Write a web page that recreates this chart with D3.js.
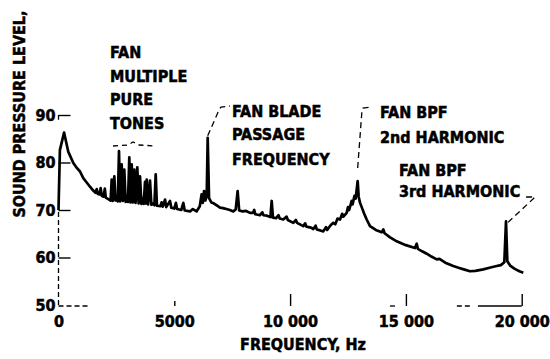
<!DOCTYPE html>
<html lang="en">
<head>
  <meta charset="UTF-8">
  <title>Fan noise spectrum</title>
  <style type="text/css">
    body{
      margin: 0;
      background: #fff;
    }
    svg text{
      font-family: "DejaVu Sans Condensed", "Liberation Sans Narrow", sans-serif;
      font-weight: bold;
      font-size: 16px;
      fill: #000;
      stroke: #000;
      stroke-width: 0.5px;
    }
    .axis line{
      stroke: #000;
      stroke-width: 1.4px;
    }
    .axis text{
      font-size: 16px;
    }
    .piece{
      stroke: #000;
      stroke-width: 1.3px;
      fill: none;
    }
    .spectrum{
      fill: none;
      stroke: #000;
      stroke-width: 2.7px;
      stroke-linejoin: round;
    }
    .leader{
      fill: none;
      stroke: #000;
      stroke-width: 1.3px;
      stroke-dasharray: 6,4;
    }
  </style>
  <script type="text/javascript" src="https://d3js.org/d3.v7.min.js"></script>
</head>
<body>
<script type="text/javascript">
  // spectrum
  var freqHz = [0, 60, 240, 420, 640, 800, 930, 1070, 1200, 1360, 1500, 1600, 1650, 1700, 1780, 1820, 1870, 1950, 2000, 2040,
    2150, 2250, 2297, 2340, 2410, 2460, 2530, 2560, 2612, 2660, 2728, 2780, 2841, 2900, 2960, 3000, 3057, 3110, 3160, 3215,
    3273, 3330, 3403, 3460, 3519, 3580, 3640, 3680, 3735, 3770, 3808, 3870, 3951, 4010, 4100, 4140, 4197, 4250, 4400, 4450,
    4500, 4600, 4650, 4815, 4870, 5000, 5070, 5120, 5300, 5390, 5450, 5680, 5800, 5965, 6100, 6180, 6230, 6285, 6340, 6400,
    6442, 6500, 6600, 6700, 6850, 6973, 7100, 7250, 7400, 7548, 7650, 7735, 7800, 7950, 8100, 8268, 8400, 8450, 8500, 8700,
    8800, 8850, 9000, 9150, 9205, 9260, 9400, 9500, 9550, 9706, 9850, 9900, 10138, 10250, 10300, 10570, 10650, 10700, 10900, 11002,
    11100, 11150, 11300, 11434, 11550, 11600, 11750, 11866, 11950, 12050, 12155, 12250, 12300, 12443, 12500, 12550, 12659, 12700, 12780, 12830,
    12918, 12960, 13020, 13100, 13200, 13307, 13450, 13700, 13955, 14025, 14080, 14300, 14603, 14800, 15000, 15393, 15466, 15520, 15700, 15900,
    16100, 16330, 16450, 16700, 17047, 17300, 17500, 17768, 18000, 18342, 18650, 18921, 19100, 19250, 19322, 19380, 19500, 19700, 19900, 20069];

  var levelDb = [70, 82.6, 86.3, 82.3, 79.9, 78.8, 78.1, 76.7, 75.9, 74.9, 74.1, 73.6, 74.4, 73.4, 73.3, 74.6, 73.0, 72.8, 74.5, 72.6,
    72.3, 72.0, 76.4, 71.9, 77.1, 72.0, 72.4, 71.8, 82.4, 71.8, 79.6, 71.9, 78.5, 71.7, 73.0, 71.7, 81.1, 71.6, 79.6, 71.6,
    78.5, 71.5, 79.0, 71.4, 77.1, 71.3, 72.5, 71.3, 75.9, 71.4, 76.4, 71.2, 76.2, 71.1, 71.4, 71.0, 77.5, 70.9, 70.8, 71.6,
    70.7, 72.2, 70.6, 71.9, 70.5, 70.3, 71.5, 70.2, 70.0, 71.5, 69.9, 69.7, 70.2, 69.7, 70.8, 73.3, 71.5, 74.0, 72.0, 73.0,
    85.2, 72.5, 71.6, 71.4, 70.9, 70.5, 70.4, 70.2, 70.0, 69.7, 70.1, 74.0, 69.9, 69.7, 69.8, 69.4, 69.4, 70.0, 69.1, 68.9,
    69.5, 68.9, 68.8, 68.5, 71.9, 68.4, 68.3, 68.9, 68.2, 68.0, 68.6, 67.9, 67.3, 67.9, 67.3, 66.6, 67.2, 66.5, 66.3, 66.0,
    66.7, 65.9, 65.7, 65.5, 66.4, 65.8, 66.8, 67.3, 67.0, 68.2, 68.0, 69.2, 68.6, 69.4, 70.6, 70.0, 71.9, 71.2, 73.0, 72.4,
    76.1, 72.8, 71.5, 70.5, 69.2, 68.0, 66.6, 65.8, 65.3, 65.9, 65.1, 64.3, 63.4, 63.0, 62.6, 62.0, 62.9, 61.8, 61.3, 60.8,
    60.2, 59.6, 59.7, 58.9, 58.2, 57.8, 57.5, 57.1, 57.2, 57.5, 57.9, 58.2, 58.4, 59.0, 67.6, 59.2, 58.3, 57.6, 57.1, 56.8];

  var freqTicks = [0, 5000, 10000, 15000, 20000];
  var freqTickLabels = ['0', '5000', '10 000', '15 000', '20 000'];
  var levelTicks = [50, 60, 70, 80, 90];

  // surviving bits of the axis lines on the scan
  var xAxisPieces = [[0, 1270, true], [14310, 14530, false], [17200, 17770, true], [18110, 20000, false]];
  var yAxisPieces = [[50, 70, true], [89, 90, false]];

  var width = 550, height = 359;

  var svg = d3.select('body')
    .append('svg')
    .attr('width', width)
    .attr('height', height);

  var xScale = d3.scaleLinear()
    .domain([0, 20000])
    .range([58.5, 521.7]);

  var yScale = d3.scaleLinear()
    .domain([50, 90])
    .range([305, 115]);

  var spectrum = freqHz.map(function(f, i){ return {f: f, db: levelDb[i]}; });

  // axes
  var xAxis = d3.axisBottom(xScale)
    .tickValues(freqTicks)
    .tickFormat(function(d, i){ return freqTickLabels[i]; })
    .tickSizeInner(-12)
    .tickSizeOuter(0)
    .tickPadding(10);

  var yAxis = d3.axisLeft(yScale)
    .tickValues(levelTicks)
    .tickSizeInner(-12)
    .tickSizeOuter(0)
    .tickPadding(3);

  var gx = svg.append('g')
    .attr('class', 'x axis')
    .attr('transform', 'translate(0,' + (yScale(50) + 1) + ')')
    .call(xAxis);
  gx.select('.domain').remove();
  gx.selectAll('.tick line')
    .attr('y2', function(d){ return d === 5000 ? -5 : -12; })
    .style('display', function(d){ return d === 0 ? 'none' : null; });

  var gy = svg.append('g')
    .attr('class', 'y axis')
    .attr('transform', 'translate(' + xScale(0) + ',0)')
    .call(yAxis);
  gy.select('.domain').remove();
  gy.selectAll('.tick line')
    .style('display', function(d){ return d === 50 ? 'none' : null; });

  svg.selectAll('.xpiece')
    .data(xAxisPieces)
    .enter().append('line')
    .attr('class', 'piece')
    .attr('x1', function(d){ return xScale(d[0]); })
    .attr('x2', function(d){ return xScale(d[1]); })
    .attr('y1', yScale(50) + 1)
    .attr('y2', yScale(50) + 1)
    .style('stroke-dasharray', function(d){ return d[2] ? '5,3' : null; });

  svg.selectAll('.ypiece')
    .data(yAxisPieces)
    .enter().append('line')
    .attr('class', 'piece')
    .attr('x1', xScale(0))
    .attr('x2', xScale(0))
    .attr('y1', function(d){ return yScale(d[0]); })
    .attr('y2', function(d){ return yScale(d[1]); })
    .style('stroke-dasharray', function(d){ return d[2] ? '5,3' : null; });

  // the spectrum curve
  var line = d3.line()
    .x(function(d){ return xScale(d.f); })
    .y(function(d){ return yScale(d.db); });

  svg.append('path')
    .datum(spectrum)
    .attr('class', 'spectrum')
    .attr('d', line);

  // axis titles
  svg.append('text')
    .attr('text-anchor', 'middle')
    .attr('transform', 'translate(25,114) rotate(-90)')
    .text('SOUND PRESSURE LEVEL,');

  svg.append('text')
    .attr('x', 303)
    .attr('y', 350)
    .attr('text-anchor', 'middle')
    .text('FREQUENCY, Hz');

  // annotations
  function label(x, y, lines){
    lines.forEach(function(t, i){
      svg.append('text')
        .attr('x', x)
        .attr('y', y[i])
        .text(t);
    });
  }

  label(110, [58, 82, 105, 129], ['FAN', 'MULTIPLE', 'PURE', 'TONES']);
  label(232, [117, 140, 165], ['FAN BLADE', 'PASSAGE', 'FREQUENCY']);
  label(380, [118, 143], ['FAN BPF', '2nd HARMONIC']);
  label(399, [176, 197], ['FAN BPF', '3rd HARMONIC']);

  // brace over the pure tones
  svg.append('path')
    .attr('class', 'leader')
    .style('stroke-dasharray', '5,4')
    .attr('d', 'M113,146 L128,145 L133,142 L139,145 L156,146');

  // leaders to the blade passage peaks
  var bpf = spectrum[80];
  var h2 = spectrum[140];
  var h3 = spectrum[spectrum.length - 6];

  svg.append('path')
    .attr('class', 'leader')
    .attr('d', 'M' + xScale(bpf.f) + ',' + (yScale(bpf.db) - 2) + ' L219,110 L221,107 L230,106');

  svg.append('path')
    .attr('class', 'leader')
    .attr('d', 'M' + xScale(h2.f) + ',' + (yScale(h2.db) - 13) + ' L362,110 L363,108 L372,107');

  svg.append('path')
    .attr('class', 'leader')
    .attr('d', 'M' + (xScale(h3.f) + 2) + ',' + (yScale(h3.db) + 1) + ' L533,199 L535,197 L525,197');
</script>
</body>
</html>
